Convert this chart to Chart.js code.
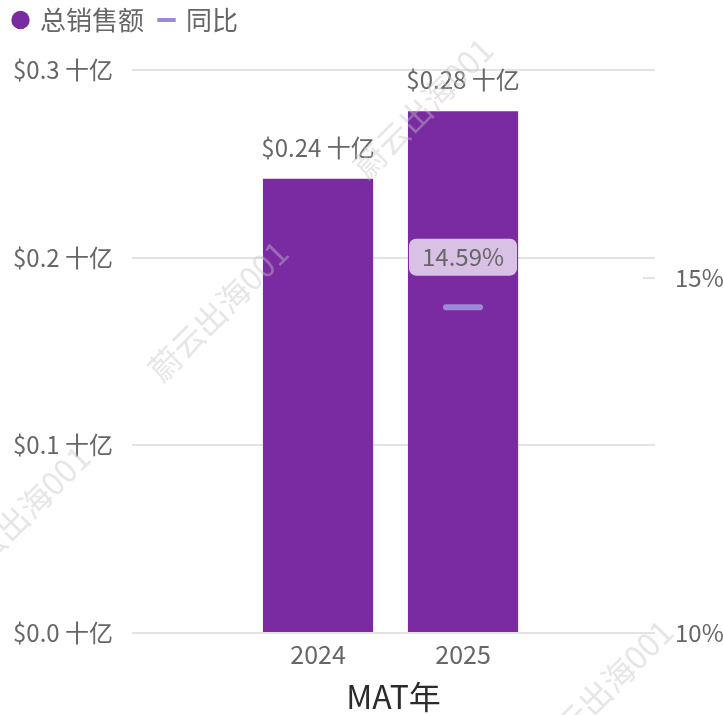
<!DOCTYPE html>
<html><head><meta charset="utf-8">
<script src="https://cdn.jsdelivr.net/npm/chart.js@4.4.1/dist/chart.umd.min.js"></script>
<style>html,body{margin:0;padding:0;background:#fff}#wrap{width:723px;height:715px;position:relative}</style>
</head><body><div id="wrap"><canvas id="c"></canvas></div>
<script>
// ---- data ----
const years = [2024, 2025];
const salesValues = [0.242, 0.278];   // 总销售额 (十亿美元)
const yoyValues = [null, 14.59];      // 同比 (%)
const salesLabel = '总销售额';
const yoyLabel = '同比';
const xTitle = 'MAT年';
const leftTickValues = [0, 0.1, 0.2, 0.3];
const rightTickValues = [10, 15];
const watermarkText = '蔚云出海001';

const FONT = '"Noto Sans CJK SC", "Noto Sans", sans-serif';
const TEXT = '#666666';
const BAR = '#7b2ba1';
const LINE = '#9b8ad8';
const GRID = '#e6e2de';

const PAD_LEFT = -2, PAD_TOP = -9;

const fmtMoney = (v, d) => '$' + v.toFixed(d) + ' 十亿';

const labelPlugin = {
  id: 'valueLabels',
  beforeUpdate(chart) {
    const lg = chart.legend;
    if (lg && !lg._patched) {
      const orig = lg.fit.bind(lg);
      lg.fit = function () { orig(); this.height = 70 - PAD_TOP; };
      lg._patched = true;
    }
  },
  beforeDatasetDraw(chart, args) {
    if (args.meta.type === 'line') chart.ctx.lineCap = 'round';
  },
  afterDatasetDraw(chart) {
    chart.ctx.lineCap = 'butt';
  },
  afterDatasetsDraw(chart) {
    const ctx = chart.ctx;
    ctx.save();
    ctx.font = '24px ' + FONT;
    ctx.textAlign = 'center';
    ctx.textBaseline = 'middle';
    chart.data.datasets.forEach((ds, di) => {
      const meta = chart.getDatasetMeta(di);
      meta.data.forEach((el, i) => {
        const raw = ds.data[i].y;
        if (raw === null || raw === undefined) return;
        if (meta.type === 'bar') {
          ctx.fillStyle = TEXT;
          ctx.fillText(fmtMoney(raw, 2), el.x, el.y - 31);
        } else {
          const txt = raw.toFixed(2) + '%';
          const w = ctx.measureText(txt).width + 26;
          const h = 37;
          const cx = el.x, cy = el.y - 50;
          ctx.fillStyle = '#d8c1e5';
          ctx.beginPath();
          ctx.roundRect(cx - w / 2, cy - h / 2, w, h, 7);
          ctx.fill();
          ctx.fillStyle = TEXT;
          ctx.fillText(txt, cx, cy);
        }
      });
    });
    ctx.restore();
  },
  afterDraw(chart) {
    const ctx = chart.ctx;
    ctx.save();
    ctx.font = '32px ' + FONT;
    ctx.fillStyle = 'rgba(195,195,195,0.42)';
    ctx.textAlign = 'center';
    ctx.textBaseline = 'middle';
    [[218, 311], [423, 108], [20, 516], [603, 690], [803, 486]].forEach(([x, y]) => {
      ctx.save();
      ctx.translate(x, y);
      ctx.rotate(-Math.PI / 4);
      ctx.fillText(watermarkText, 0, 0);
      ctx.restore();
    });
    ctx.restore();
  }
};

new Chart(document.getElementById('c'), {
  type: 'bar',
  data: {
    datasets: [
      {
        type: 'bar',
        label: salesLabel,
        data: years.map((y, i) => ({ x: y, y: salesValues[i] })),
        backgroundColor: BAR,
        borderWidth: 0,
        yAxisID: 'y',
        order: 1,
        barPercentage: 0.76,
        categoryPercentage: 1
      },
      {
        type: 'line',
        label: yoyLabel,
        data: years.map((y, i) => ({ x: y, y: yoyValues[i] })),
        showLine: false,
        borderColor: LINE,
        backgroundColor: LINE,
        pointStyle: 'line',
        pointRadius: 17,
        pointHoverRadius: 17,
        pointBorderWidth: 6,
        pointBorderColor: LINE,
        yAxisID: 'y1',
        order: 0
      }
    ]
  },
  options: {
    responsive: true,
    maintainAspectRatio: false,
    animation: false,
    layout: { padding: { left: PAD_LEFT, top: PAD_TOP, right: 0, bottom: 0 } },
    plugins: {
      tooltip: { enabled: false },
      legend: {
        position: 'top',
        align: 'start',
        labels: {
          usePointStyle: true,
          boxWidth: 13,
          boxHeight: 13,
          padding: 16,
          color: TEXT,
          font: { size: 26, family: FONT },
          sort: (a, b) => a.datasetIndex - b.datasetIndex,
          generateLabels(chart) {
            const items = Chart.defaults.plugins.legend.labels.generateLabels(chart);
            items.forEach(it => {
              if (it.datasetIndex === 0) { it.pointStyle = 'circle'; it.lineWidth = 0; it.fillStyle = BAR; it.strokeStyle = BAR; }
              else { it.pointStyle = 'line'; it.lineWidth = 4; it.strokeStyle = LINE; }
              it.fontColor = TEXT;
            });
            return items;
          }
        }
      }
    },
    scales: {
      x: {
        type: 'linear',
        offset: false,
        min: 2022.717,
        max: 2026.324,
        grid: { display: false, drawTicks: false },
        border: { display: false },
        afterBuildTicks: s => { s.ticks = years.map(v => ({ value: v })); },
        afterFit: s => { s.height = 82; },
        ticks: {
          padding: 6,
          color: TEXT,
          font: { size: 25, family: FONT },
          callback: v => String(v)
        },
        title: {
          display: true,
          text: xTitle,
          color: '#2b2b2b',
          font: { size: 32, family: FONT, lineHeight: 1 },
          padding: { top: 0, bottom: 2 }
        }
      },
      y: {
        position: 'left',
        min: 0,
        max: 0.3,
        grid: { color: GRID, lineWidth: 2, drawTicks: false },
        border: { display: false },
        afterBuildTicks: s => { s.ticks = leftTickValues.map(v => ({ value: v })); },
        afterFit: s => { s.width = 132 - PAD_LEFT; },
        ticks: {
          padding: 19,
          color: TEXT,
          font: { size: 24, family: FONT },
          callback: v => fmtMoney(v, 1)
        }
      },
      y1: {
        position: 'right',
        min: 10,
        max: 17.93,
        grid: { drawOnChartArea: false, drawTicks: true, tickLength: -12, color: GRID, lineWidth: 2 },
        border: { display: false },
        afterBuildTicks: s => { s.ticks = rightTickValues.map(v => ({ value: v })); },
        afterFit: s => { s.width = 68; },
        ticks: {
          padding: 32,
          color: TEXT,
          font: { size: 24, family: FONT },
          callback: v => v + '%'
        }
      }
    }
  },
  plugins: [labelPlugin]
});
</script></body></html>
